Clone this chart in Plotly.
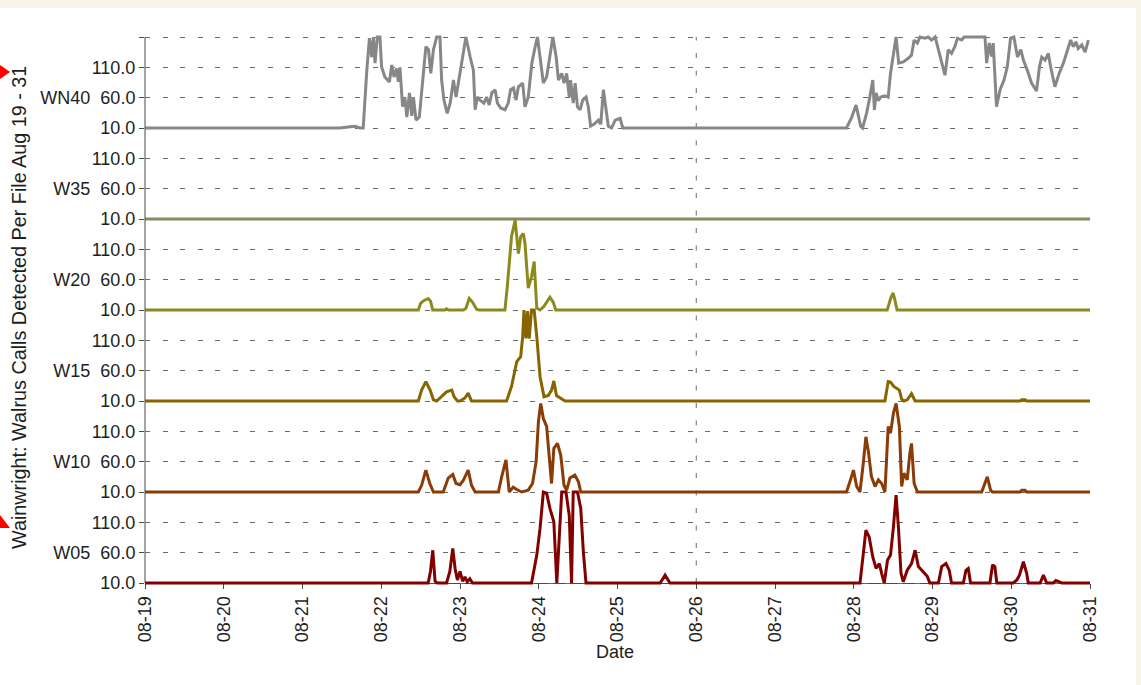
import pandas as pd
import plotly.graph_objects as go

# ---------------- data (hours after 08-19 00:00, calls per file) ----------------
START = pd.Timestamp("2019-08-19")
END = pd.Timestamp("2019-08-31")

panel_names = ["WN40", "W35", "W20", "W15", "W10", "W05"]
panel_colors = ["#878787", "#8b8a5e", "#8c8a1e", "#876500", "#8a3b06", "#820000"]
tick_vals = [10, 60, 110]
panel_top = 160
week_marks = ["2019-08-26"]

wn40_hours = [0, 59.4, 62.5, 64.0, 65.5, 66.5, 67.6, 68.4, 69.1, 69.6, 70.1, 70.8, 71.6, 72.1, 73.1,
              74.5, 75.2, 75.9, 76.7, 77.2, 77.7, 78.5, 79.2, 79.8, 80.6, 81.3, 81.8, 82.6, 83.6,
              84.8, 85.6, 86.4, 87.1, 87.9, 88.9, 89.9, 90.4, 91.1, 92.1, 93.0, 94.0, 94.8, 95.8,
              96.8, 97.8, 99.1, 100.1, 100.6, 101.3, 102.1, 103.3, 104.1, 104.9, 105.7, 106.7,
              107.4, 108.4, 109.7, 110.7, 111.4, 112.3, 113.1, 113.8, 115.1, 115.8, 116.8, 117.9,
              118.9, 119.6, 120.4, 121.4, 122.4, 123.2, 124.3, 125.3, 126.0, 127.0, 127.7, 128.5,
              129.3, 129.7, 130.5, 131.1, 131.8, 132.6, 133.4, 134.4, 135.1, 135.8, 136.8, 138.2,
              138.9, 139.7, 140.5, 141.2, 142.2, 143.3, 144.8, 145.6,
              213.8, 215.4, 216.7, 218.1, 218.7, 219.9, 220.9, 221.8, 222.3, 222.8, 223.5, 224.2,
              225.5, 226.5, 227.2, 228.3, 228.9, 229.7, 231.1, 232.6, 233.6, 234.4, 235.4, 236.2,
              237.7, 238.7, 239.7, 240.8, 241.8, 242.8, 243.8, 244.8, 245.8, 246.8, 247.6, 248.9,
              249.6, 256.0, 256.5, 257.3, 258.0, 258.5, 259.5, 260.6, 261.8, 262.8, 263.8, 264.8,
              265.9, 266.9, 267.7, 268.9, 270.2, 271.7, 272.6, 273.3, 274.3, 275.3, 276.0, 277.3,
              278.6, 279.9, 280.9, 282.1, 282.9, 283.7, 284.4, 285.5, 286.5, 287.5]
wn40_calls = [10, 10, 12, 13, 10, 10, 105, 158, 127, 160, 117, 160, 160, 111, 94,
              86, 114, 94, 108, 86, 110, 45, 61, 28, 68, 30, 61, 23, 28,
              105, 144, 139, 100, 139, 160, 160, 89, 56, 34, 51, 89, 61, 94,
              127, 160, 127, 105, 40, 61, 56, 51, 61, 48, 68, 73,
              51, 43, 40, 51, 73, 76, 56, 78, 84, 45, 61, 117,
              144, 160, 127, 84, 94, 122, 160, 127, 89, 100, 84, 100,
              61, 89, 51, 84, 45, 40, 56, 61, 45, 13, 16, 23,
              16, 73, 45, 13, 10, 23, 26, 10,
              10, 28, 48, 13, 10, 34, 61, 89, 40, 68, 55, 61,
              63, 61, 100, 139, 160, 117, 119, 125, 130, 155, 150, 160,
              158, 160, 155, 160, 139, 117, 97, 139, 133, 144, 158, 155,
              160, 160, 117, 150, 128, 150, 45, 73, 89, 111, 158, 160,
              127, 139, 122, 105, 84, 71, 111, 127, 122, 133, 111, 78,
              100, 117, 133, 155, 144, 152, 141, 147, 135, 155]

w35_hours = [0, 288]
w35_calls = [10, 10]

w20_hours = [0, 83.3, 84.0, 84.8, 86.3, 87.0, 87.7, 91.4, 91.9, 92.5, 97.0, 97.8, 98.8, 99.8,
             101.1, 101.9, 109.7, 110.4, 111.7, 112.8, 113.8, 114.5, 115.3, 115.8, 116.8, 117.8,
             118.6, 119.4, 120.4, 121.6, 123.4, 124.4, 125.2, 226.2, 227.3, 228.0, 228.6, 229.2, 288]
w20_calls = [10, 10, 21, 25, 29, 25, 10, 10, 12, 10, 10, 13, 29, 23,
             11, 10, 10, 48, 131, 158, 103, 131, 136, 120, 46, 65,
             90, 13, 10, 16, 31, 23, 10, 10, 30, 38, 25, 10, 10]

w15_hours = [0, 83.3, 84.3, 85.6, 86.9, 87.9, 88.9, 90.4, 91.9, 93.5, 94.2, 95.2, 96.0, 97.5, 98.5,
             99.5, 110.2, 111.7, 113.3, 114.5, 115.1, 115.5, 116.1, 116.6, 117.1, 117.8, 118.6,
             119.4, 120.4, 121.6, 122.9, 123.9, 124.6, 125.4, 126.7, 128.0, 225.5, 226.5, 227.2,
             228.2, 229.9, 230.6, 231.3, 232.3, 233.6, 234.7, 266.7, 267.2, 268.2, 268.7, 288]
w15_calls = [10, 10, 28, 42, 28, 12, 10, 17, 25, 28, 17, 10, 10, 15, 23,
             10, 10, 34, 75, 83, 116, 160, 113, 158, 113, 160, 160,
             116, 50, 17, 19, 28, 43, 19, 15, 10, 10, 42, 41,
             34, 28, 13, 10, 12, 22, 10, 10, 12, 12, 10, 10]

w10_hours = [0, 83.3, 84.3, 85.6, 86.8, 87.9, 90.9, 92.4, 93.8, 94.8, 96.0, 97.0, 98.5, 99.5, 100.6,
             107.7, 108.7, 110.0, 111.0, 112.2, 113.3, 114.8, 116.8, 118.1, 119.2, 119.9, 120.6,
             121.4, 122.4, 123.2, 123.9, 124.6, 125.7, 126.7, 127.7, 128.5, 129.5, 131.0, 132.1,
             132.8, 213.8, 215.0, 215.9, 216.9, 217.9, 218.9, 219.7, 220.4, 221.4, 222.5, 223.5,
             224.5, 225.5, 226.5, 227.2, 228.1, 228.9, 229.9, 230.6, 231.3, 232.3, 233.1, 233.6,
             234.4, 235.4, 255.0, 256.0, 256.7, 257.7, 258.3, 266.7, 267.2, 268.2, 268.7, 288]
w10_calls = [10, 10, 21, 46, 24, 10, 10, 33, 39, 24, 22, 29, 46, 21, 10,
             10, 35, 63, 10, 18, 14, 10, 13, 24, 60, 126, 156,
             131, 118, 60, 24, 82, 90, 71, 21, 13, 33, 38, 27,
             10, 10, 30, 46, 19, 10, 57, 101, 79, 35, 19, 30,
             24, 10, 118, 107, 140, 156, 118, 19, 41, 30, 74, 90,
             24, 10, 10, 24, 35, 13, 10, 10, 13, 13, 10, 10]

w05_hours = [0, 86.3, 87.0, 87.7, 88.4, 89.1, 91.9, 92.9, 93.8, 94.5, 95.2, 96.0, 96.8, 97.5, 98.2,
             99.0, 99.8, 117.8, 119.4, 120.4, 121.4, 122.4, 123.4, 124.6, 125.5, 126.3, 127.0,
             128.3, 129.3, 130.0, 130.5, 131.8, 132.8, 133.6, 134.4, 157.0, 158.5, 160.0,
             217.9, 218.7, 219.7, 220.7, 221.8, 222.8, 223.8, 224.5, 225.3, 226.3, 227.2, 228.1,
             228.9, 229.6, 230.4, 231.1, 232.3, 233.6, 234.7, 235.7, 237.2, 238.4, 239.2, 241.8,
             242.8, 244.1, 245.1, 245.8, 249.4, 250.2, 250.9, 251.6, 257.5, 258.3, 259.0, 259.6,
             264.6, 265.7, 266.5, 267.7, 268.7, 269.2, 272.8, 273.8, 274.8, 276.8, 277.6, 278.6,
             279.4, 288]
w05_calls = [10, 10, 29, 64, 13, 10, 10, 29, 67, 34, 15, 29, 13, 20, 12,
             17, 10, 10, 56, 100, 160, 158, 133, 111, 10, 100, 160,
             160, 121, 10, 160, 160, 133, 61, 10, 10, 23, 10,
             10, 48, 97, 86, 53, 34, 42, 26, 10, 48, 56, 103,
             155, 103, 26, 12, 31, 42, 64, 37, 29, 21, 10, 10,
             37, 42, 31, 10, 10, 31, 34, 10, 10, 40, 37, 10,
             10, 15, 23, 45, 26, 10, 10, 23, 10, 10, 14, 12,
             10, 10]

series_hours = [wn40_hours, w35_hours, w20_hours, w15_hours, w10_hours, w05_hours]
series_calls = [wn40_calls, w35_calls, w20_calls, w15_calls, w10_calls, w05_calls]

# ---------------- geometry (pixels) ----------------
W, H = 1141, 685
PL, PR = 145, 1090          # plot left / right
PT = 34                     # paper top (3px above first panel)
PB = 587                    # paper bottom (4px below last panel)
PANEL_TOP0 = 37
PANEL_H = 91
EXT_TOP, EXT_BOT = 3, 4
PH = PB - PT
units_per_px = (panel_top - 10) / PANEL_H


def py(p):
    return (PB - p) / PH


def px(p):
    return (p - PL) / (PR - PL)


FONT = "Liberation Sans, Arial, Helvetica, sans-serif"
GRID_DASH = "5px,12.5px"
GRID_COLOR = "#6b6b6b"
AXIS_COLOR = "#4a4a4a"
TEXT_COLOR = "#1e1e1e"

fig = go.Figure()
layout = dict(
    width=W, height=H,
    margin=dict(l=PL, r=W - PR, t=PT, b=H - PB, pad=0),
    paper_bgcolor="white",
    plot_bgcolor="rgba(0,0,0,0)",
    showlegend=False,
    font=dict(family=FONT, size=18, color=TEXT_COLOR),
    xaxis=dict(
        type="date",
        range=[START, END],
        anchor="free",
        position=py(PANEL_TOP0 + 6 * PANEL_H),
        dtick=86400000,
        tick0=START,
        tickformat="%m-%d",
        tickangle=-90,
        ticks="outside",
        ticklen=5,
        tickcolor=AXIS_COLOR,
        showline=True,
        linecolor=AXIS_COLOR,
        linewidth=1,
        showgrid=False,
        zeroline=False,
        tickfont=dict(size=18, color=TEXT_COLOR),
    ),
)

for k, name in enumerate(panel_names):
    yname = "yaxis" if k == 0 else f"yaxis{k + 1}"
    top_px = PANEL_TOP0 + k * PANEL_H
    bot_px = top_px + PANEL_H
    tv = list(tick_vals)
    tt = ["10.0", f"{name}\u00a0\u00a060.0", "110.0"]
    if k == 0:
        tv.append(panel_top)
        tt.append("")
    layout[yname] = dict(
        domain=[max(0.0, py(bot_px + EXT_BOT)), min(1.0, py(top_px - EXT_TOP))],
        range=[10 - EXT_BOT * units_per_px, panel_top + EXT_TOP * units_per_px],
        anchor="x",
        tickvals=tv,
        ticktext=tt,
        ticks="outside",
        ticklen=5,
        tickcolor=AXIS_COLOR,
        showline=False,
        zeroline=False,
        showgrid=True,
        gridcolor=GRID_COLOR,
        gridwidth=1,
        griddash=GRID_DASH,
        tickfont=dict(size=18, color=TEXT_COLOR),
    )
    hrs = series_hours[k]
    calls = series_calls[k]
    fig.add_trace(go.Scatter(
        x=[START + pd.Timedelta(hours=h) for h in hrs],
        y=calls,
        mode="lines",
        line=dict(color=panel_colors[k], width=3),
        xaxis="x",
        yaxis="y" if k == 0 else f"y{k + 1}",
        name=name,
        hoverinfo="skip",
    ))

fig.update_layout(**layout)

shapes = []
# left axis line
shapes.append(dict(type="line", xref="paper", yref="paper", x0=0, x1=0,
                   y0=py(PANEL_TOP0 + 6 * PANEL_H), y1=py(PANEL_TOP0),
                   line=dict(color=AXIS_COLOR, width=1)))
# weekly vertical grid line
for wk in week_marks:
    shapes.append(dict(type="line", xref="x", yref="paper", x0=wk, x1=wk,
                       y0=py(PANEL_TOP0 + 6 * PANEL_H), y1=py(PANEL_TOP0),
                       line=dict(color=GRID_COLOR, width=1, dash=GRID_DASH), layer="below"))
# beige frame strips
shapes.append(dict(type="rect", xref="paper", yref="paper", x0=px(0), x1=px(W),
                   y0=py(8), y1=py(0), fillcolor="#f7f5e7", line=dict(width=0), layer="below"))
shapes.append(dict(type="rect", xref="paper", yref="paper", x0=px(1136), x1=px(W),
                   y0=py(H), y1=py(0), fillcolor="#f7f5e7", line=dict(width=0), layer="below"))
# red markers at the left edge
shapes.append(dict(type="path", xref="paper", yref="paper",
                   path=f"M {px(0)},{py(65)} L {px(10)},{py(72)} L {px(0)},{py(79)} Z",
                   fillcolor="#ff0000", line=dict(width=0)))
shapes.append(dict(type="path", xref="paper", yref="paper",
                   path=f"M {px(0)},{py(515)} L {px(10)},{py(528)} L {px(0)},{py(528)} Z",
                   fillcolor="#ff0000", line=dict(width=0)))
fig.update_layout(shapes=shapes)

fig.add_annotation(text="Wainwright: Walrus Calls Detected Per File Aug 19 - 31",
                   xref="paper", yref="paper", x=px(19), y=py(308),
                   textangle=-90, showarrow=False, xanchor="center", yanchor="middle",
                   font=dict(size=19.8, color=TEXT_COLOR))
fig.add_annotation(text="Date", xref="paper", yref="paper", x=px(615), y=py(652),
                   showarrow=False, xanchor="center", yanchor="middle",
                   font=dict(size=18, color=TEXT_COLOR))

fig.write_html("out.html", config={"displayModeBar": False},
               post_script="document.body.style.margin = '0px';")
